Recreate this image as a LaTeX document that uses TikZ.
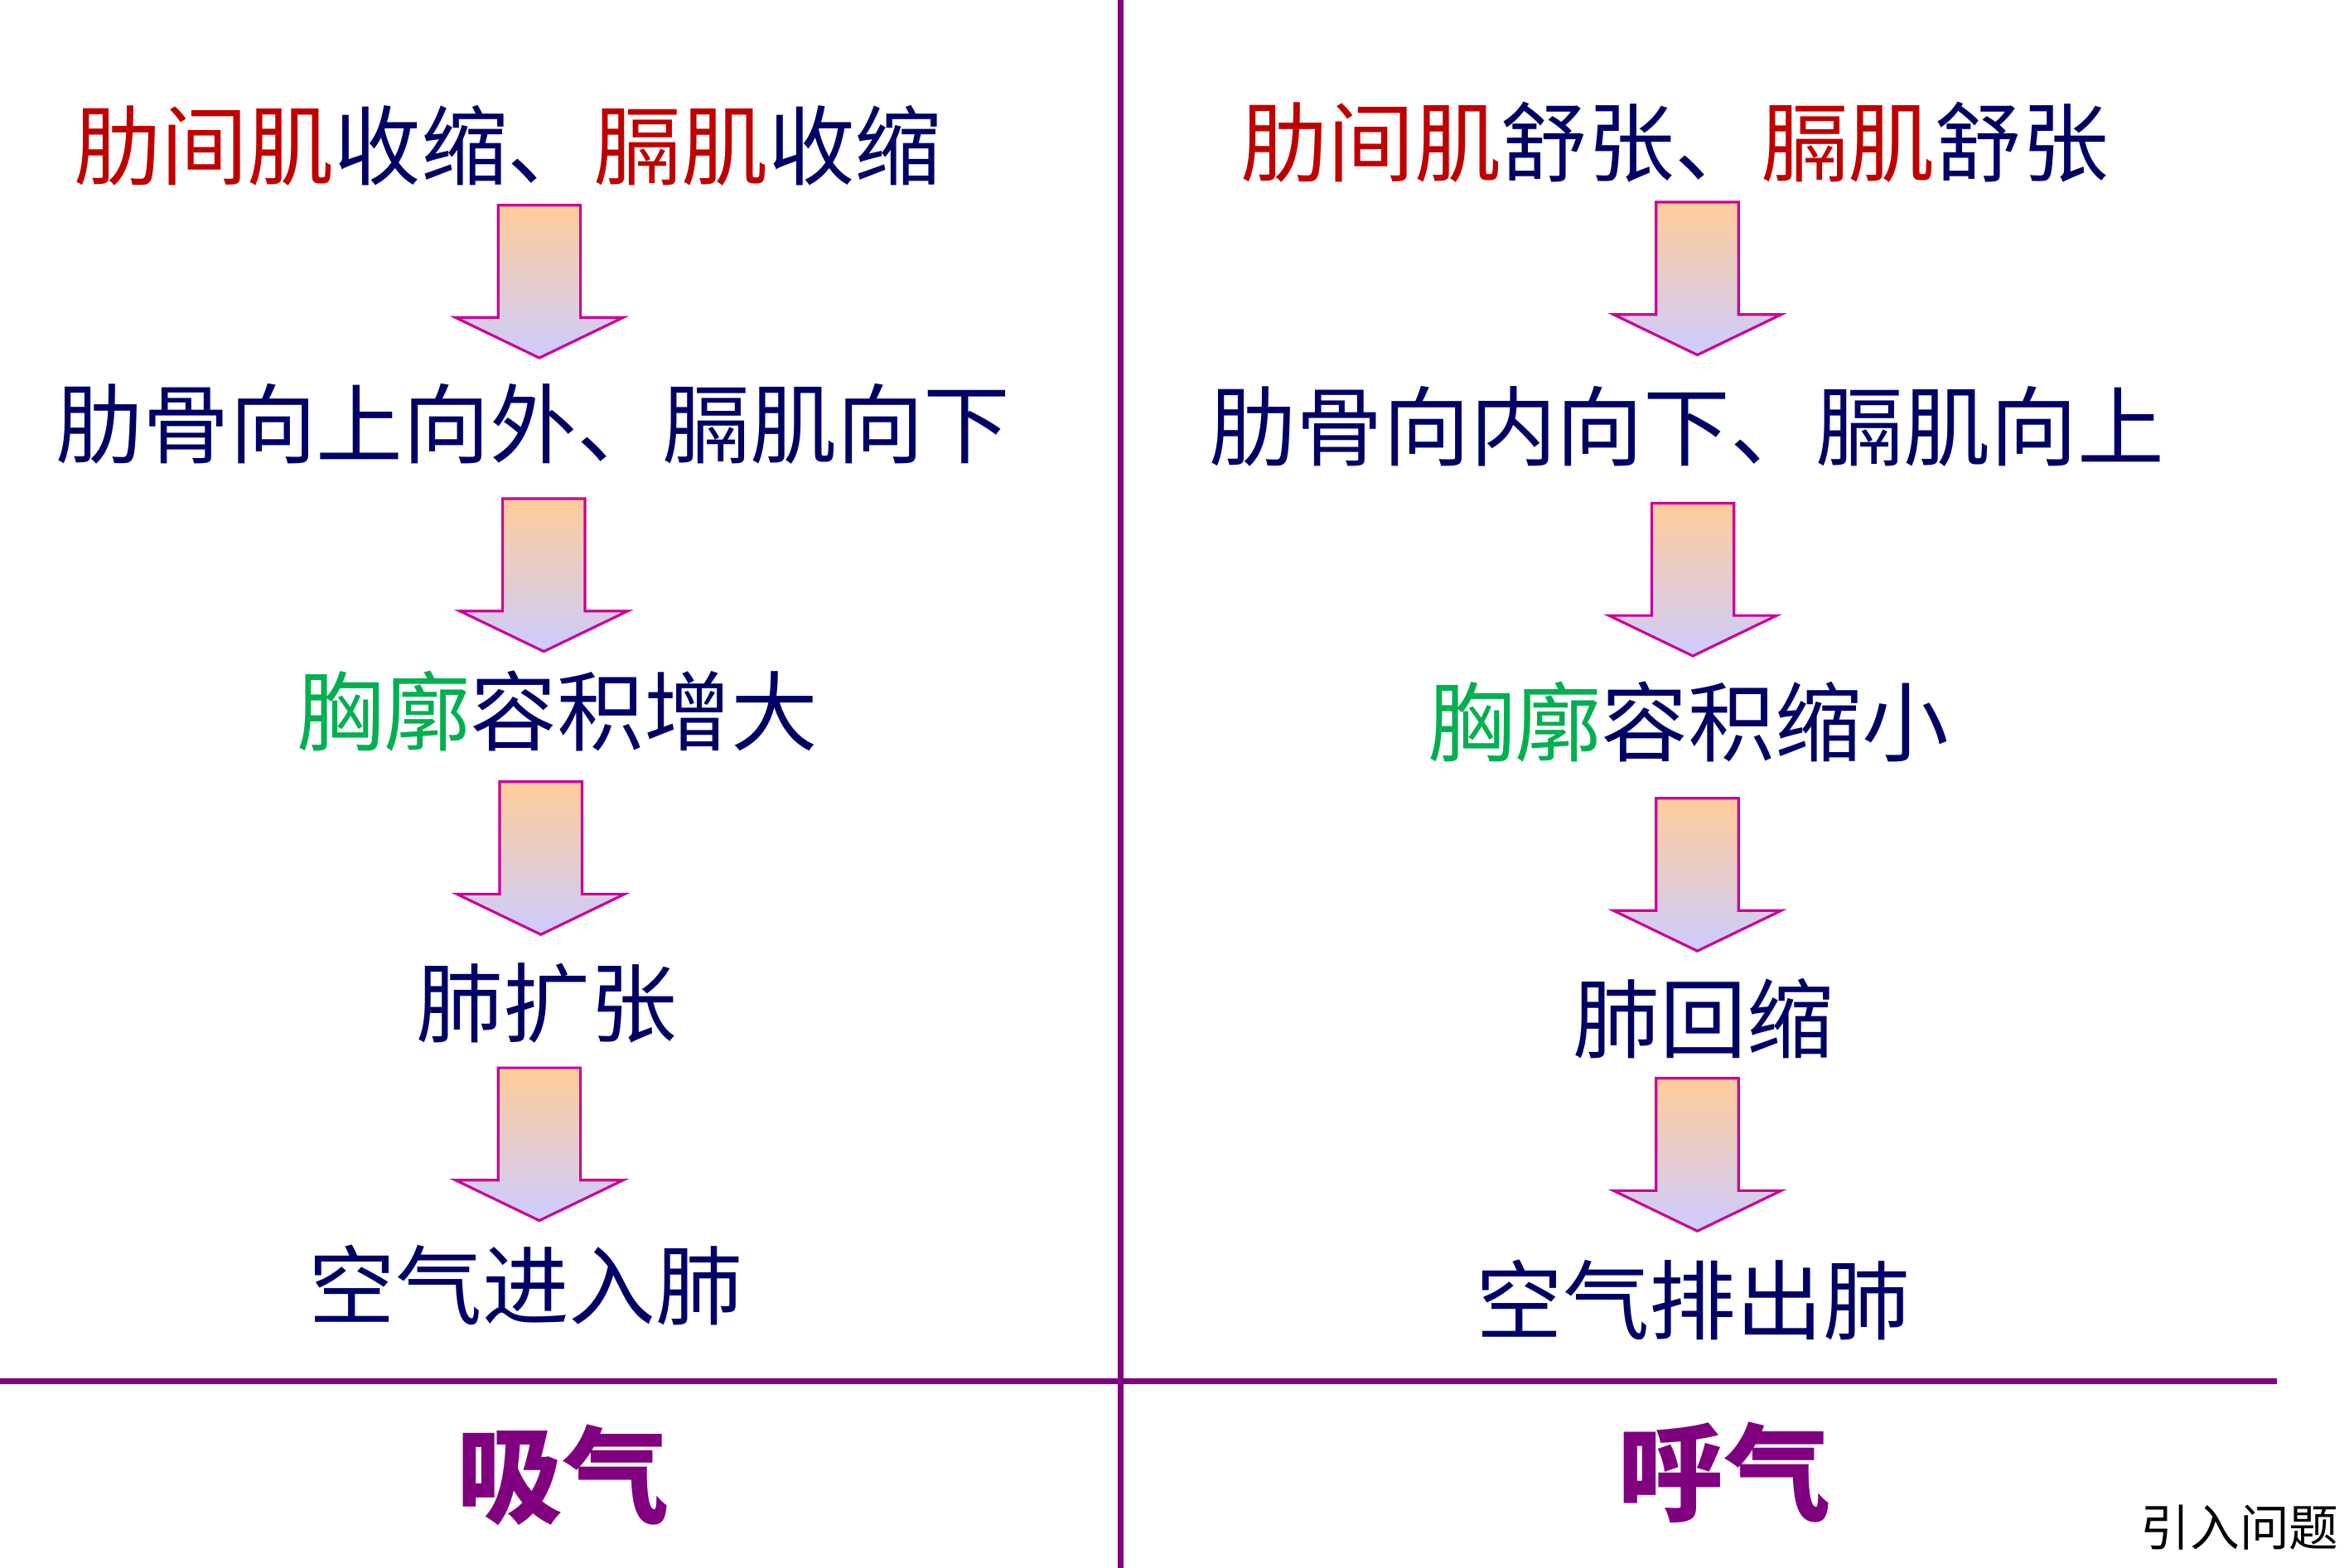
\documentclass[tikz,border=0pt]{standalone}
\usepackage{fontspec}
\setmainfont{Noto Sans CJK SC}
\definecolor{muscle}{HTML}{C00000}
\definecolor{navy}{HTML}{000066}
\definecolor{chest}{HTML}{00B050}
\definecolor{phase}{HTML}{800080}
\definecolor{arrowtop}{HTML}{FFCC99}
\definecolor{arrowbot}{HTML}{CCCCFF}
\definecolor{arrowedge}{HTML}{CC0099}
\newcommand{\mus}[1]{{\color{muscle}#1}}
\newcommand{\che}[1]{{\color{chest}#1}}

\begin{document}
\begin{tikzpicture}[
    x=0.01808cm, y=-0.01808cm,
    stage/.style={text=navy, font=\fontsize{29.8}{32}\selectfont, inner sep=0pt},
    title/.style={text=phase, font=\fontsize{36.5}{40}\selectfont\bfseries, inner sep=0pt},
    divider/.style={draw=phase, line width=2pt},
    down/.pic={
        \path[draw=arrowedge, line width=0.9pt, top color=arrowtop, bottom color=arrowbot]
            (-27.5,0) -- (27.5,0) -- (27.5,75) -- (56,75) -- (0,102) -- (-56,75) -- (-27.5,75) -- cycle;
    }
]
    \useasboundingbox (0,0) rectangle (1568,1047);

    % Dividers
    \coordinate (vtop) at (748,0);
    \coordinate (vbot) at (748,1047);
    \coordinate (hleft) at (0,922);
    \coordinate (hright) at (1520,922);
    \draw[divider] (vtop) -- (vbot);
    \draw[divider] (hleft) -- (hright);

    % Inhale
    \node[stage] (in1) at (339,97) {\mus{肋间肌}收缩、\mus{膈肌}收缩};
    \node[stage] (in2) at (356,283) {肋骨向上向外、膈肌向下};
    \node[stage] (in3) at (372,475) {\che{胸廓}容积增大};
    \node[stage] (in4) at (365,670) {肺扩张};
    \node[stage] (in5) at (351,858) {空气进入肺};
    \node[title] (inhale) at (376,985) {吸气};
    \pic at (360,137) {down};
    \pic at (363,333) {down};
    \pic at (361,522) {down};
    \pic at (360,713) {down};

    % Exhale
    \node[stage] (ex1) at (1118,95) {\mus{肋间肌}舒张、\mus{膈肌}舒张};
    \node[stage] (ex2) at (1126,285) {肋骨向内向下、膈肌向上};
    \node[stage] (ex3) at (1127,482) {\che{胸廓}容积缩小};
    \node[stage] (ex4) at (1137,680) {肺回缩};
    \node[stage] (ex5) at (1130,868) {空气排出肺};
    \node[title] (exhale) at (1151,983) {呼气};
    \pic at (1133,135) {down};
    \pic at (1130,336) {down};
    \pic at (1133,533) {down};
    \pic at (1133,720) {down};

    \node[inner sep=0pt, font=\fontsize{17}{18}\selectfont] (intro) at (1495,1020) {引入问题};
\end{tikzpicture}
\end{document}
